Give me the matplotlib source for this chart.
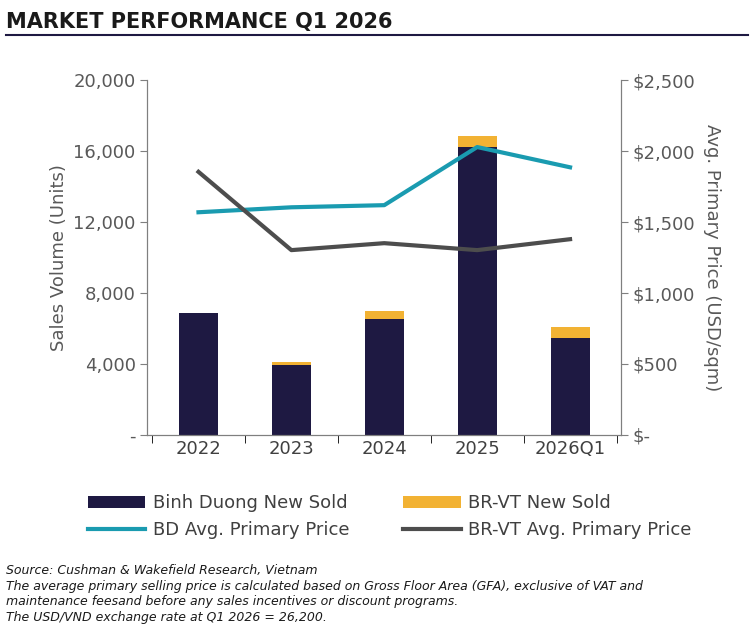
import numpy as np
from matplotlib import pyplot as plt
from matplotlib.ticker import FuncFormatter

years = ['2022', '2023', '2024', '2025', '2026Q1']
bd_sold = [6900, 3950, 6550, 16250, 5450]
brvt_sold = [0, 150, 450, 600, 650]
bd_price = [1570, 1605, 1620, 2030, 1887]
brvt_price = [1855, 1303, 1352, 1303, 1380]

navy = '#1e1942'
gold = '#f2b233'
teal = '#1a9bb0'
grey = '#4d4d4d'
txt = '#595959'

fig = plt.figure(figsize=(7.52, 6.33), dpi=100)
ax = fig.add_axes([0.196, 0.313, 0.63, 0.56])
x = np.arange(len(years))
ax.bar(x, bd_sold, width=0.42, color=navy, label='Binh Duong New Sold', zorder=2)
ax.bar(x, brvt_sold, width=0.42, bottom=bd_sold, color=gold, label='BR-VT New Sold', zorder=2)
ax.set_ylim(0, 20000)
ax.set_xlim(-0.55, 4.55)
ax.set_yticks(range(0, 20001, 4000))
ax.yaxis.set_major_formatter(FuncFormatter(lambda v, p: '-' if v == 0 else f'{v:,.0f}'))
ax.set_xticks(x)
ax.set_xticklabels(years)
ax.set_ylabel('Sales Volume (Units)', fontsize=13, color=txt)

ax2 = ax.twinx()
ax2.plot(x, bd_price, color=teal, lw=3, label='BD Avg. Primary Price')
ax2.plot(x, brvt_price, color=grey, lw=3, label='BR-VT Avg. Primary Price')
ax2.set_ylim(0, 2500)
ax2.set_yticks(range(0, 2501, 500))
ax2.yaxis.set_major_formatter(FuncFormatter(lambda v, p: '$-' if v == 0 else f'${v:,.0f}'))
ax2.set_ylabel('Avg. Primary Price (USD/sqm)', fontsize=13, color=txt, rotation=270, labelpad=18)

for a in (ax, ax2):
    a.spines['top'].set_visible(False)
    for s in a.spines.values():
        s.set_color('#7f7f7f')
    a.tick_params(labelsize=13, labelcolor=txt, colors='#7f7f7f', length=5)
ax.tick_params(axis='x', labelcolor='#404040')
ax.set_xticks(np.arange(-0.5, 5, 1), minor=True)
ax.tick_params(axis='x', which='major', length=0)
ax.tick_params(axis='x', which='minor', length=6)

h1, l1 = ax.get_legend_handles_labels()
h2, l2 = ax2.get_legend_handles_labels()
handles = [h1[0], h2[0], h1[1], h2[1]]
labels = [l1[0], l2[0], l1[1], l2[1]]
fig.legend(handles, labels, ncol=2, loc='upper left', bbox_to_anchor=(0.095, 0.245),
           frameon=False, fontsize=13, columnspacing=3.0, handlelength=3.2,
           labelcolor='#404040', labelspacing=0.5, handletextpad=0.4)

fig.text(0.008, 0.965, 'MARKET PERFORMANCE Q1 2026', fontsize=15, fontweight='bold',
         color='#1a1a1a', va='center')
fig.add_artist(plt.Line2D([0.008, 0.995], [0.945, 0.945], color='#1e1942', lw=1.5))
fig.text(0.008, 0.015,
         'Source: Cushman & Wakefield Research, Vietnam\n'
         'The average primary selling price is calculated based on Gross Floor Area (GFA), exclusive of VAT and\n'
         'maintenance feesand before any sales incentives or discount programs.\n'
         'The USD/VND exchange rate at Q1 2026 = 26,200.',
         fontsize=9, style='italic', color='#1a1a1a', va='bottom', linespacing=1.25)

plt.savefig('out.png')
